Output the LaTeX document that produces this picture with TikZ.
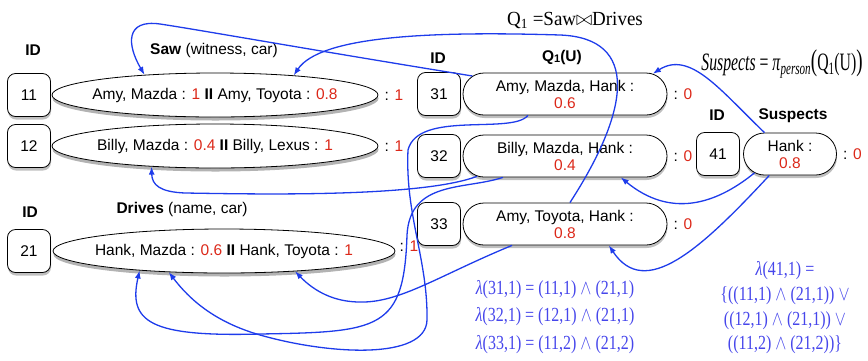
\documentclass[tikz,border=0pt]{standalone}
\usepackage{fontspec}
\usepackage{graphicx}
\setmainfont{Liberation Sans}
\newfontfamily\formulafont{Liberation Serif}
\usetikzlibrary{shapes.geometric,shapes.misc,shadows,arrows.meta,positioning}
\definecolor{linkblue}{RGB}{30,60,235}
\definecolor{mathblue}{RGB}{70,70,235}
\definecolor{valred}{RGB}{220,40,25}
\newcommand{\val}[1]{\textcolor{valred}{#1}}
\newcommand{\lamline}[1]{\scalebox{0.8}[1]{#1}}

\begin{document}
\begin{tikzpicture}[x=1pt,y=-1pt,
    font=\fontsize{15.5}{17}\selectfont,
    idbox/.style={draw=black, line width=0.8pt, fill=white,
        rectangle, rounded corners=8pt,
        minimum width=43pt, minimum height=43pt, inner sep=0pt,
        drop shadow={shadow xshift=0.5pt, shadow yshift=-3pt, opacity=0.5}},
    basetuple/.style={draw=black, line width=0.8pt, fill=white,
        ellipse, inner sep=0pt, minimum width=326pt, minimum height=44pt,
        drop shadow={shadow xshift=0.5pt, shadow yshift=-3.5pt, opacity=0.6}},
    querytuple/.style={draw=black, line width=0.8pt, fill=white,
        rounded rectangle, inner sep=1pt, align=center,
        minimum width=206pt, minimum height=42pt,
        drop shadow={shadow xshift=0.5pt, shadow yshift=-3pt, opacity=0.5}},
    header/.style={font=\fontsize{15.5}{17}\selectfont\bfseries},
    valtag/.style={inner sep=0pt},
    link/.style={draw=linkblue, line width=1.3pt, -{Latex[length=8pt,width=6pt]}},
    lineage/.style={text=mathblue, align=center}]
    \useasboundingbox (0,0) rectangle (868,360);

    %headers
    \node[header] (idh1) at (33,50) {ID};
    \node (sawh) at (214,50) {\textbf{Saw} (witness, car)};
    \node[header] (idh2) at (30,212) {ID};
    \node (drvh) at (182,209) {\textbf{Drives} (name, car)};
    \node[header] (idh3) at (438,58) {ID};
    \node[header] (qh) at (562,57) {Q\raisebox{-1.5pt}{\fontsize{11}{11}\selectfont 1}(U)};
    \node[header] (idh4) at (717,115) {ID};
    \node[header] (susph) at (793,116) {Suspects};

    %queries
    \node (qdef) at (575,20) {\formulafont\fontsize{20}{22}\selectfont
        \scalebox{0.95}[1]{Q\textsubscript{1} =Saw$\bowtie$Drives}};
    \node (sdef) at (782,64) {\formulafont\fontsize{25}{27}\selectfont
        \scalebox{0.63}[1]{\textit{Suspects} = \textit{π}\textsubscript{\textit{person}}{\fontsize{30}{30}\selectfont(}Q\textsubscript{1}(U){\fontsize{30}{30}\selectfont)}}};

    %Saw
    \node[idbox] (id11) at (29,95) {11};
    \node[basetuple] (s11) at (215,95)
        {\makebox[0pt]{Amy, Mazda : \val{1} \textbf{II} Amy, Toyota : \val{0.8}}};
    \node[valtag, right=6pt of s11] (c11) {: \val{1}};
    \node[idbox] (id12) at (29,146) {12};
    \node[basetuple] (s12) at (215,146)
        {\makebox[0pt]{Billy, Mazda : \val{0.4} \textbf{II} Billy, Lexus : \val{1}}};
    \node[valtag, right=6pt of s12] (c12) {: \val{1}};

    %Drives
    \node[idbox] (id21) at (29,251) {21};
    \node[basetuple, minimum width=342pt] (d21) at (224,251)
        {\makebox[0pt]{Hank, Mazda : \val{0.6} \textbf{II} Hank, Toyota : \val{1}}};
    \node[valtag, right=4pt of d21, yshift=5pt] (c21) {: \val{1}};

    %Q1(U)
    \node[idbox] (id31) at (439,94) {31};
    \node[querytuple] (q31) at (565,94) {Amy, Mazda, Hank :\\\val{0.6}};
    \node[valtag, right=6pt of q31] (c31) {: \val{0}};
    \node[idbox] (id32) at (439,156) {32};
    \node[querytuple] (q32) at (565,156) {Billy, Mazda, Hank :\\\val{0.4}};
    \node[valtag, right=6pt of q32] (c32) {: \val{0}};
    \node[idbox] (id33) at (439,224) {33};
    \node[querytuple] (q33) at (565,224) {Amy, Toyota, Hank :\\\val{0.8}};
    \node[valtag, right=6pt of q33] (c33) {: \val{0}};

    %Suspects
    \node[idbox] (id41) at (718,154) {41};
    \node[querytuple, minimum width=95pt] (s41) at (790,154) {Hank :\\\val{0.8}};
    \node[valtag, right=6pt of s41] (c41) {: \val{0}};

    %lineage
    \node[lineage, font=\formulafont\fontsize{20}{27.5}\selectfont] (lam3) at (555,317)
        {\lamline{\textit{λ}(31,1) = (11,1) $\wedge$ (21,1)}\\
         \lamline{\textit{λ}(32,1) = (12,1) $\wedge$ (21,1)}\\
         \lamline{\textit{λ}(33,1) = (11,2) $\wedge$ (21,2)}};
    \node[lineage, font=\formulafont\fontsize{20}{24.7}\selectfont] (lam4) at (785,308)
        {\lamline{\textit{λ}(41,1) =}\\
         \lamline{\{((11,1) $\wedge$ (21,1)) $\vee$}\\
         \lamline{((12,1) $\wedge$ (21,1)) $\vee$}\\
         \lamline{((11,2) $\wedge$ (21,2))\}}};

    %Q1 -> Saw
    \draw[link] (q31.169) .. controls (300,48) and (200,30) .. (160,24)
        .. controls (125,19) and (127,45) .. (s11.164);
    \draw[link] (q33.77) .. controls (630,110) and (640,38) .. (560,35)
        .. controls (430,31) and (320,36) .. (s11.14);
    \draw[link] (q32.193) .. controls (420,198) and (250,194) .. (185,193)
        .. controls (160,192) and (152,185) .. (s12.198);
    %Q1 -> Drives
    \draw[link] (q31.210) .. controls (512,135) and (418,110) .. (408,150)
        .. controls (405,215) and (428,260) .. (427,320)
        .. controls (426,360) and (330,355) .. (260,335)
        .. controls (215,322) and (190,300) .. (d21.201);
    \draw[link] (q32.199) .. controls (465,190) and (410,180) .. (407,235)
        .. controls (404,330) and (380,332) .. (260,334)
        .. controls (150,337) and (128,322) .. (d21.193);
    \draw[link] (q33.202) .. controls (440,275) and (400,303) .. (360,302)
        .. controls (335,302) and (315,292) .. (d21.-16);
    %Suspects -> Q1
    \draw[link] (s41.140) .. controls (720,90) and (690,50) .. (q31.13);
    \draw[link] (s41.208) .. controls (715,205) and (670,218) .. (q32.-21);
    \draw[link] (s41.226) .. controls (700,250) and (645,300) .. (q33.-26);
\end{tikzpicture}
\end{document}
